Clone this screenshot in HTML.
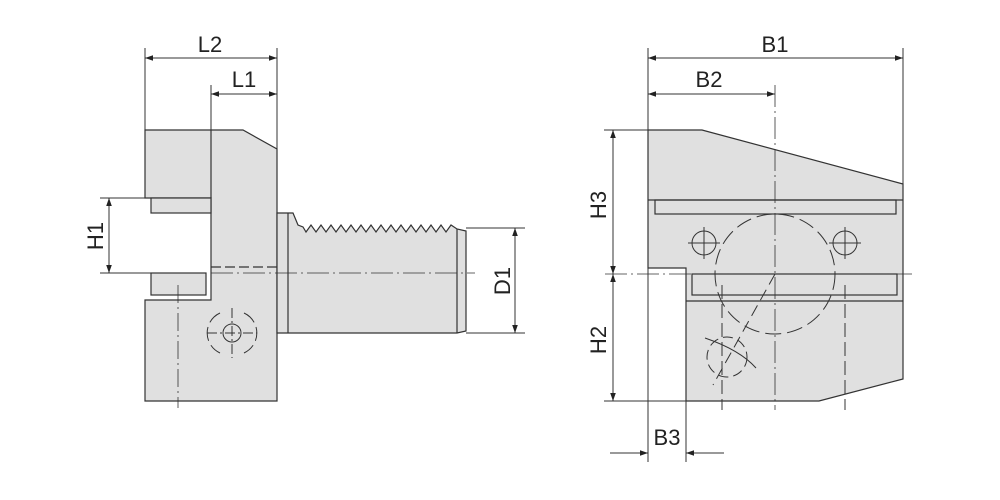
<!DOCTYPE html>
<html><head><style>html,body{margin:0;padding:0;background:#fff}svg{display:block}</style></head><body>
<svg width="1000" height="500" viewBox="0 0 1000 500" xmlns="http://www.w3.org/2000/svg" font-family="Liberation Sans, sans-serif" font-size="22" fill="none" stroke="#333" stroke-width="1.2">
<defs>
<marker id="a" viewBox="0 0 10 10" refX="10" refY="5" markerWidth="12" markerHeight="8" markerUnits="userSpaceOnUse" orient="auto-start-reverse"><path d="M0,1.5 L10,5 L0,8.5 z" fill="#222" stroke="none"/></marker>
</defs>
<!-- LEFT VIEW -->
<polygon points="145,130 243,130 277,149 277,401 145,401 145,300 211,300 211,198 145,198" fill="#e0e0e0"/>
<line x1="211" y1="130" x2="211" y2="198"/>
<rect x="151" y="198" width="60" height="15" fill="#e0e0e0"/>
<rect x="151" y="273" width="55" height="22" fill="#e0e0e0"/>
<path d="M277,213 H293 L298,225 L303,227 L306,232 L311,225 L316,232 L321,225 L326,232 L331,225 L336,232 L341,225 L346,232 L351,225 L356,232 L361,225 L366,232 L371,225 L376,232 L381,225 L386,232 L391,225 L396,232 L401,225 L406,232 L411,225 L416,232 L421,225 L426,232 L431,225 L436,232 L441,225 L446,232 L451,225 L457,229 L466,231 V331 L457,333 H277 Z" fill="#e0e0e0"/>
<line x1="288" y1="213" x2="288" y2="333"/>
<line x1="457" y1="229" x2="457" y2="333"/>
<line x1="211" y1="267" x2="277" y2="267" stroke-dasharray="10,4"/>
<line x1="211" y1="273" x2="475" y2="273" stroke-width="0.8" stroke-dasharray="22,4,2,4"/>
<line x1="178" y1="285" x2="178" y2="408" stroke-width="0.8" stroke-dasharray="18,4,2,4"/>
<g stroke-width="1">
<circle cx="232" cy="333" r="9"/>
<path d="M220,313 A22,22 0 0 0 220,353" stroke-dasharray="14,5"/>
<path d="M244,313 A22,22 0 0 1 244,353" stroke-dasharray="14,5"/>
<line x1="207" y1="333" x2="257" y2="333" stroke-dasharray="10,3,2,3"/>
<line x1="232" y1="308" x2="232" y2="358" stroke-dasharray="10,3,2,3"/>
</g>
<!-- left dims -->
<g stroke-width="1">
<line x1="145" y1="48" x2="145" y2="130"/>
<line x1="277" y1="48" x2="277" y2="149"/>
<line x1="211" y1="85" x2="211" y2="130"/>
<line x1="145" y1="58" x2="277" y2="58" marker-start="url(#a)" marker-end="url(#a)"/>
<line x1="211" y1="94" x2="277" y2="94" marker-start="url(#a)" marker-end="url(#a)"/>
<line x1="100" y1="198" x2="151" y2="198"/>
<line x1="100" y1="273" x2="151" y2="273"/>
<line x1="109" y1="198" x2="109" y2="273" marker-start="url(#a)" marker-end="url(#a)"/>
<line x1="466" y1="228" x2="525" y2="228"/>
<line x1="466" y1="333" x2="525" y2="333"/>
<line x1="515" y1="228" x2="515" y2="333" marker-start="url(#a)" marker-end="url(#a)"/>
</g>
<g fill="#222" stroke="none">
<text x="210" y="52" text-anchor="middle">L2</text>
<text x="244" y="87" text-anchor="middle">L1</text>
<text transform="translate(103,236) rotate(-90)" text-anchor="middle">H1</text>
<text transform="translate(510,281) rotate(-90)" text-anchor="middle">D1</text>
</g>
<!-- RIGHT VIEW -->
<polygon points="648,130 702,130 903,184 903,379 819,401 686,401 686,268 648,268" fill="#e0e0e0"/>
<line x1="648" y1="200" x2="903" y2="200"/>
<rect x="655" y="200" width="241" height="14"/>
<rect x="692" y="274" width="205" height="21"/>
<line x1="686" y1="301" x2="903" y2="301"/>
<g stroke-width="1">
<circle cx="775" cy="274" r="60" stroke-dasharray="16,6"/>
<circle cx="704" cy="243" r="12"/>
<circle cx="845" cy="243" r="12"/>
<line x1="688" y1="243" x2="720" y2="243"/><line x1="704" y1="227" x2="704" y2="259"/>
<line x1="829" y1="243" x2="861" y2="243"/><line x1="845" y1="227" x2="845" y2="259"/>
<circle cx="727" cy="357" r="20" stroke-dasharray="10,5"/>
<path d="M705,338 Q740,350 756,368"/>
<line x1="775" y1="274" x2="713" y2="385" stroke-dasharray="12,6"/>
<line x1="775" y1="85" x2="775" y2="410" stroke-width="0.8" stroke-dasharray="22,4,2,4"/>
<line x1="722" y1="285" x2="722" y2="410" stroke-dasharray="14,5"/>
<line x1="845" y1="285" x2="845" y2="410" stroke-dasharray="14,5"/>
<line x1="605" y1="274" x2="912" y2="274" stroke-width="0.8" stroke-dasharray="22,4,2,4"/>
</g>
<g stroke-width="1">
<line x1="648" y1="48" x2="648" y2="462"/>
<line x1="903" y1="48" x2="903" y2="184"/>
<line x1="686" y1="401" x2="686" y2="462"/>
<line x1="648" y1="58" x2="903" y2="58" marker-start="url(#a)" marker-end="url(#a)"/>
<line x1="648" y1="94" x2="775" y2="94" marker-start="url(#a)" marker-end="url(#a)"/>
<line x1="604" y1="130" x2="648" y2="130"/>
<line x1="604" y1="401" x2="686" y2="401"/>
<line x1="613" y1="130" x2="613" y2="274" marker-start="url(#a)" marker-end="url(#a)"/>
<line x1="613" y1="274" x2="613" y2="401" marker-start="url(#a)" marker-end="url(#a)"/>
<line x1="610" y1="453" x2="648" y2="453" marker-end="url(#a)"/>
<line x1="724" y1="453" x2="686" y2="453" marker-end="url(#a)"/>
</g>
<g fill="#222" stroke="none">
<text x="775" y="52" text-anchor="middle">B1</text>
<text x="709" y="87" text-anchor="middle">B2</text>
<text x="667" y="445" text-anchor="middle">B3</text>
<text transform="translate(606,205) rotate(-90)" text-anchor="middle">H3</text>
<text transform="translate(606,340) rotate(-90)" text-anchor="middle">H2</text>
</g>
</svg>
</body></html>
